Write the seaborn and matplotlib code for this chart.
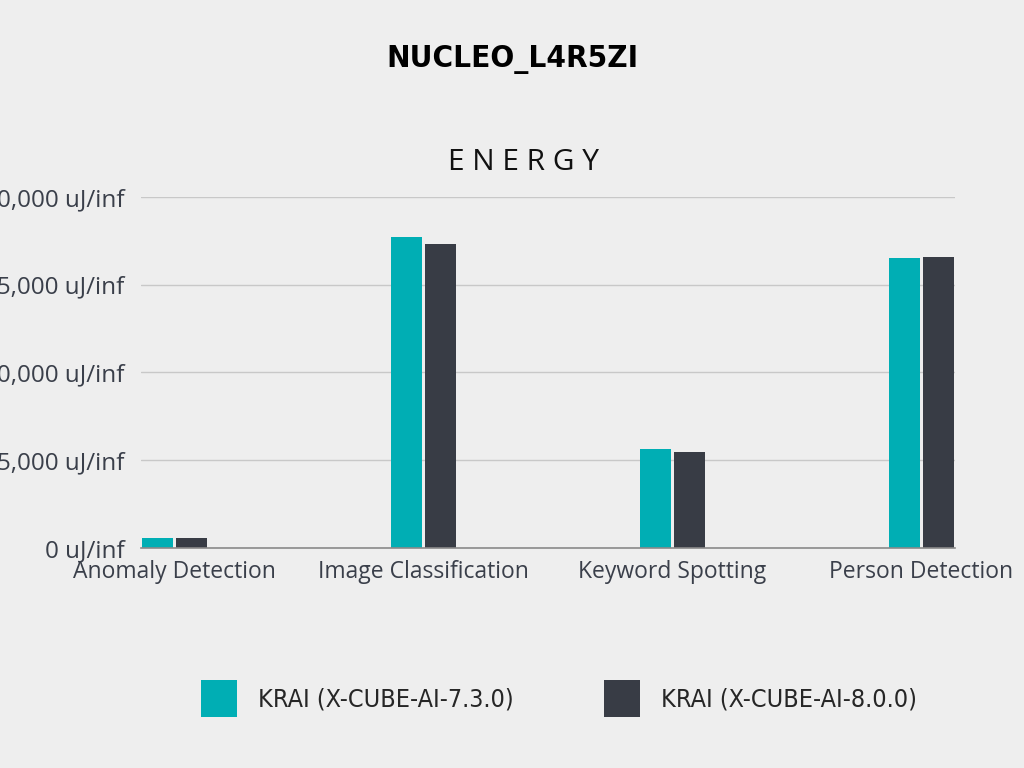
import pandas as pd
import matplotlib.pyplot as plt
import seaborn as sns
from matplotlib.ticker import FuncFormatter

# Data
categories = ['Anomaly Detection', 'Image Classification', 'Keyword Spotting', 'Person Detection']
series_names = ['KRAI (X-CUBE-AI-7.3.0)', 'KRAI (X-CUBE-AI-8.0.0)']
energy_730 = [570, 17720, 5640, 16520]
energy_800 = [560, 17320, 5470, 16580]

colors = ['#00AEB4', '#383C45']
bg = '#EEEEEE'

df = pd.DataFrame({
    'task': categories * 2,
    'series': [series_names[0]] * 4 + [series_names[1]] * 4,
    'energy': energy_730 + energy_800,
})

sns.set_theme(style='white')
plt.rcParams['font.family'] = ['Open Sans', 'DejaVu Sans']

fig = plt.figure(figsize=(10.24, 7.68), dpi=100, facecolor=bg)
ax = fig.add_axes([0.1377, 0.2865, 0.7949, 0.457])
ax.set_facecolor(bg)

sns.barplot(data=df, x='task', y='energy', hue='series', palette=colors,
            width=0.27, gap=0.08, linewidth=0, saturation=1, ax=ax)

ax.set_xlim(-0.135, 3.135)
ax.set_ylim(0, 20000)
ax.set_yticks([0, 5000, 10000, 15000, 20000])
ax.yaxis.set_major_formatter(FuncFormatter(lambda v, p: f'{v:,.0f} uJ/inf'))
ax.grid(axis='y', color='#C8C8C8', linewidth=1)
ax.set_axisbelow(True)
for s in ['top', 'right', 'left']:
    ax.spines[s].set_visible(False)
ax.spines['bottom'].set_color('#8A8A8A')
ax.spines['bottom'].set_linewidth(1.2)
ax.tick_params(axis='x', length=0, labelsize=16.5, colors='#3A3F4A', pad=9)
ax.tick_params(axis='y', length=0, labelsize=17.5, colors='#3A3F4A', pad=12)
ax.set_xlabel('')
ax.set_ylabel('')

# legend at the bottom with square swatches
handles, labels = ax.get_legend_handles_labels()
ax.legend_.remove()
fig.legend(handles, labels, loc='center', bbox_to_anchor=(0.546, 0.091), ncol=2,
           frameon=False, handlelength=1.45, handleheight=1.9,
           handletextpad=0.85, columnspacing=3.6,
           prop={'family': 'DejaVu Sans', 'stretch': 'condensed', 'size': 18})

fig.text(0.5, 0.922, 'NUCLEO_L4R5ZI', ha='center', va='center', fontsize=22.5,
         fontweight='bold', family='DejaVu Sans', fontstretch='condensed', color='black')
fig.text(0.511, 0.789, 'E N E R G Y', ha='center', va='center', fontsize=21.5,
         family=['Open Sans', 'DejaVu Sans'], color='#111111')

fig.savefig('out.png', dpi=100, facecolor=bg)
